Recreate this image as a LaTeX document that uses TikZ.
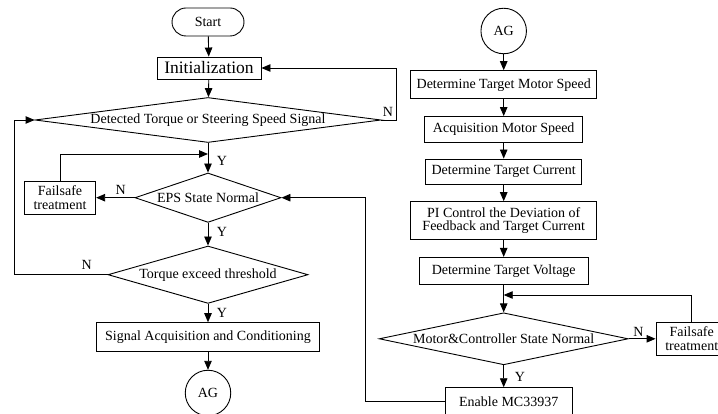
\documentclass[tikz,border=0pt]{standalone}
\usepackage{fontspec}
\setmainfont{Liberation Serif}
\usetikzlibrary{shapes.geometric}
\usetikzlibrary{arrows.meta}

\begin{document}
\begin{tikzpicture}[x=1pt,y=-1pt,line width=0.9pt,
	font=\fontsize{14pt}{13.5pt}\selectfont,
	arr/.style={-{Triangle[length=9pt,width=7.5pt]}},
	proc/.style={rectangle,draw,inner sep=1pt,align=center},
	term/.style={rectangle,draw,rounded corners=14pt,minimum width=72pt,minimum height=28pt},
	decision/.style={diamond,draw,inner sep=0pt},
	conn/.style={circle,draw,inner sep=0pt,minimum size=45.5pt},
	lbl/.style={inner sep=0pt}]
	\useasboundingbox (0,0) rectangle (718,414);

	% left column
	\node[term](start) at (208,22) {Start};
	\node[proc,minimum width=104pt,minimum height=22pt,font=\fontsize{17.5pt}{18pt}\selectfont](init) at (209,68) {Initialization};
	\node[decision,minimum width=346pt,minimum height=45pt,shape aspect=7.7](detect) at (208,120) {Detected Torque or Steering Speed Signal};
	\node[decision,minimum width=146pt,minimum height=49.4pt,shape aspect=3](eps) at (208,197.7) {EPS State Normal};
	\node[proc,minimum width=71.4pt,minimum height=32.6pt](fail1) at (60,197.7) {Failsafe\\treatment};
	\node[decision,minimum width=200pt,minimum height=57.4pt,shape aspect=3.5](torque) at (208,274.7) {Torque exceed threshold};
	\node[proc,minimum width=222.3pt,minimum height=28.3pt](signal) at (208,336.8) {Signal Acquisition and Conditioning};
	\node[conn](ag1) at (208,393) {AG};

	\coordinate (dr) at (396,120);
	\coordinate (fb1) at (208,154);
	\coordinate (tl) at (14.3,274.7);

	\draw[arr] (start) -- (init);
	\draw[arr] (init) -- (detect);
	\draw[arr] (detect.east) -- (dr) |- (init.east);
	\draw[arr] (detect) -- (eps);
	\draw[arr] (fail1.north) |- (fb1);
	\draw[arr] (eps.west) -- (fail1.east);
	\draw[arr] (eps) -- (torque);
	\draw[arr] (torque.west) -- (tl) |- (detect.west);
	\draw[arr] (torque) -- (signal);
	\draw[arr] (signal) -- (ag1);

	\node[lbl](nDetect) at (388,112) {N};
	\node[lbl](yDetect) at (222,160.7) {Y};
	\node[lbl](nEps) at (120.7,190) {N};
	\node[lbl](yEps) at (222,231.7) {Y};
	\node[lbl](nTorque) at (86.7,265) {N};
	\node[lbl](yTorque) at (222,313.3) {Y};

	% right column
	\node[conn](ag2) at (503.7,31) {AG};
	\node[proc,minimum width=186pt,minimum height=28.3pt](tgtspeed) at (503.7,84.8) {Determine Target Motor Speed};
	\node[proc,minimum width=158.3pt,minimum height=26pt](acq) at (503.7,129.5) {Acquisition Motor Speed};
	\node[proc,minimum width=156pt,minimum height=25pt](tgtcur) at (503.7,171.5) {Determine Target Current};
	\node[proc,minimum width=186pt,minimum height=38.3pt](pictl) at (503.7,220.8) {PI Control the Deviation of\\Feedback and Target Current};
	\node[proc,minimum width=169pt,minimum height=26.7pt](tgtvolt) at (503.7,270.7) {Determine Target Voltage};
	\node[decision,minimum width=249pt,minimum height=52pt,shape aspect=4.8](motor) at (503.7,338.8) {Motor\&Controller State Normal};
	\node[proc,minimum width=71.4pt,minimum height=33.3pt](fail2) at (691.7,338.8) {Failsafe\\treatment};
	\node[proc,minimum width=127.3pt,minimum height=28pt](enable) at (508.7,401.7) {Enable MC33937};

	\coordinate (fb2) at (503.7,295);
	\coordinate (er) at (365,197.7);

	\draw[arr] (ag2) -- (tgtspeed);
	\draw[arr] (tgtspeed) -- (acq);
	\draw[arr] (acq) -- (tgtcur);
	\draw[arr] (tgtcur) -- (pictl);
	\draw[arr] (pictl) -- (tgtvolt);
	\draw[arr] (tgtvolt) -- (motor);
	\draw[arr] (fail2.north) |- (fb2);
	\draw[arr] (motor.east) -- (fail2.west);
	\draw[arr] (motor.south) -- (motor.south |- enable.north);
	\draw[arr] (enable.west) -| (er) -- (eps.east);

	\node[lbl](nMotor) at (638.3,331.7) {N};
	\node[lbl](yMotor) at (520,376.7) {Y};
\end{tikzpicture}
\end{document}
